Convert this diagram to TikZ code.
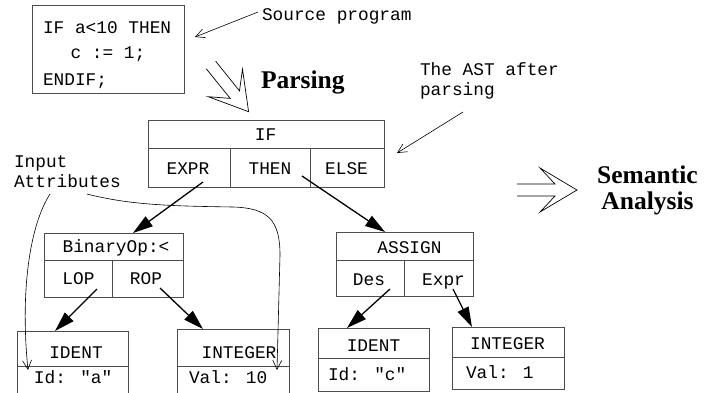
\documentclass[tikz,border=0pt]{standalone}
\usepackage{fontspec}
\setmainfont{Liberation Serif}
\newfontfamily\monof{Liberation Mono}
\usetikzlibrary{arrows.meta}
\begin{document}
\begin{tikzpicture}[x=1pt,y=-1pt,
  cell/.style={draw=black!70, line width=0.8pt, inner sep=0pt, outer sep=0pt},
  mono/.style={font=\monof\fontsize{17.8}{20}\selectfont, inner sep=0pt, outer sep=0pt, anchor=base},
  monol/.style={mono, anchor=base west, align=left},
  big/.style={font=\bfseries\fontsize{25.5}{26}\selectfont, inner sep=0pt, outer sep=0pt},
  ptr/.style={-{Triangle[length=20pt,width=12pt]}, line width=1.3pt, shorten >=0pt},
  note/.style={-{Straight Barb[length=9pt,width=9pt]}, line width=0.6pt},
  hollow/.style={line width=0.7pt, line join=miter},
]
\useasboundingbox (0,0) rectangle (707,392);

% source program
\node[cell, minimum width=152pt, minimum height=88pt] (src) at (108,49) {};
\node[monol] (srcA) at (43,33) {IF a<10 THEN};
\node[monol] (srcB) at (70.5,58) {c := 1;};
\node[monol] (srcC) at (43,85) {ENDIF;};
\node[monol] (srclab) at (262,20) {Source program};
\draw[note] ([shift={(-4,-8)}]srclab.base west) -- ([shift={(11,-12)}]src.east);

% parsing arrow
\draw[hollow] (206.3,68.8) -- (230.2,98.4) -- (208.3,96.7) -- (248.6,111.7)
  -- (242.5,69.1) -- (239.5,90.9) -- (215.7,61.2);
\node[big, anchor=base west] (parsing) at (261,88) {Parsing};

% AST label (base = last line)
\node[monol] (astlab) at (420,95) {The AST after\\parsing};

% IF record
\node[cell, minimum width=236pt, minimum height=28pt] (ifh) at (266,134) {};
\node[cell, minimum width=82pt, minimum height=39pt] (ifexpr) at (189,167.5) {};
\node[cell, minimum width=80pt, minimum height=39pt] (ifthen) at (270,167.5) {};
\node[cell, minimum width=74pt, minimum height=39pt] (ifelse) at (347,167.5) {};
\node[mono] (tIF) at (265.5,140) {IF};
\node[mono] (tEXPR) at (188,174) {EXPR};
\node[mono] (tTHEN) at (270,174) {THEN};
\node[mono] (tELSE) at (346.5,174) {ELSE};
\draw[note] ([shift={(43,17)}]astlab.base west) -- ([shift={(13,-14.5)}]ifelse.east);

% semantic analysis
\draw[hollow] (517,184) -- (555,184) -- (540,168) -- (577,190) -- (540,212) -- (555,196) -- (517,196);
\node[big, align=center, anchor=base] (sem) at (647.5,209) {Semantic\\Analysis};

% Input attributes (base = last line)
\node[monol] (inlab) at (14,187) {Input\\Attributes};

% BinaryOp record
\node[cell, minimum width=139pt, minimum height=27pt] (binh) at (113.5,246.5) {};
\node[cell, minimum width=68pt, minimum height=37pt] (lop) at (78,278.5) {};
\node[cell, minimum width=71pt, minimum height=37pt] (rop) at (147.5,278.5) {};
\node[mono] (tBin) at (116,252) {BinaryOp:<};
\node[mono] (tLOP) at (78.5,284) {LOP};
\node[mono] (tROP) at (146,284) {ROP};

% ASSIGN record
\node[cell, minimum width=137pt, minimum height=28pt] (ash) at (404.5,246) {};
\node[cell, minimum width=68pt, minimum height=36pt] (des) at (370,278) {};
\node[cell, minimum width=69pt, minimum height=36pt] (aexpr) at (438.5,278) {};
\node[mono] (tASSIGN) at (409.5,253) {ASSIGN};
\node[mono] (tDes) at (369,285) {Des};
\node[mono] (tExpr) at (443.5,285) {Expr};

% IDENT a
\node[cell, minimum width=111pt, minimum height=35pt] (idah) at (72.5,348.5) {};
\node[cell, minimum width=111pt, minimum height=34pt] (idav) at (72.5,383) {};
\node[mono] (tIDa) at (76,358) {IDENT};
\node[monol] (tIda) at (34,383) {Id: "a"};

% INTEGER 10
\node[cell, minimum width=112pt, minimum height=37pt] (inth) at (233,347.5) {};
\node[cell, minimum width=112pt, minimum height=34pt] (intv) at (233,383) {};
\node[mono] (tINT) at (239,358) {INTEGER};
\node[monol] (tVal) at (189,383) {Val: 10};

% IDENT c
\node[cell, minimum width=111pt, minimum height=30pt] (idch) at (373.5,343) {};
\node[cell, minimum width=111pt, minimum height=33pt] (idcv) at (373.5,374.5) {};
\node[mono] (tIDc) at (373.5,351) {IDENT};
\node[monol] (tIdc) at (328,380) {Id: "c"};

% INTEGER 1
\node[cell, minimum width=112pt, minimum height=30pt] (int1h) at (508,342) {};
\node[cell, minimum width=112pt, minimum height=32pt] (int1v) at (508,373) {};
\node[mono] (tINT1) at (507.5,349) {INTEGER};
\node[monol] (tVal1) at (466,378) {Val: 1};

% pointers
\draw[ptr] ([shift={(14,14.5)}]ifexpr.center) -- ([shift={(19.5,0)}]binh.north);
\draw[ptr] ([shift={(32,8.5)}]ifthen.center) -- ([shift={(-19.5,0)}]ash.north);
\draw[ptr] ([shift={(19,10.5)}]lop.center) -- ([shift={(-17.5,0)}]idah.north);
\draw[ptr] ([shift={(12.5,9.5)}]rop.center) -- ([shift={(-30,0)}]inth.north);
\draw[ptr] ([shift={(20,11)}]des.center) -- ([shift={(-26.5,0)}]idch.north);
\draw[ptr] ([shift={(14.5,11)}]aexpr.center) -- ([shift={(-36,0)}]int1h.north);

% input attribute curves
\draw[note] ([shift={(36,7)}]inlab.base west) .. controls (30,225) and (20,290) .. ([shift={(-44.5,-13)}]idav.center);
\draw[note] ([shift={(73,7)}]inlab.base west) .. controls (130,205) and (170,206) .. (233,207)
  .. controls (268,208) and (280,220) .. (280,255) -- ([shift={(44,-13)}]intv.center);
\end{tikzpicture}
\end{document}
